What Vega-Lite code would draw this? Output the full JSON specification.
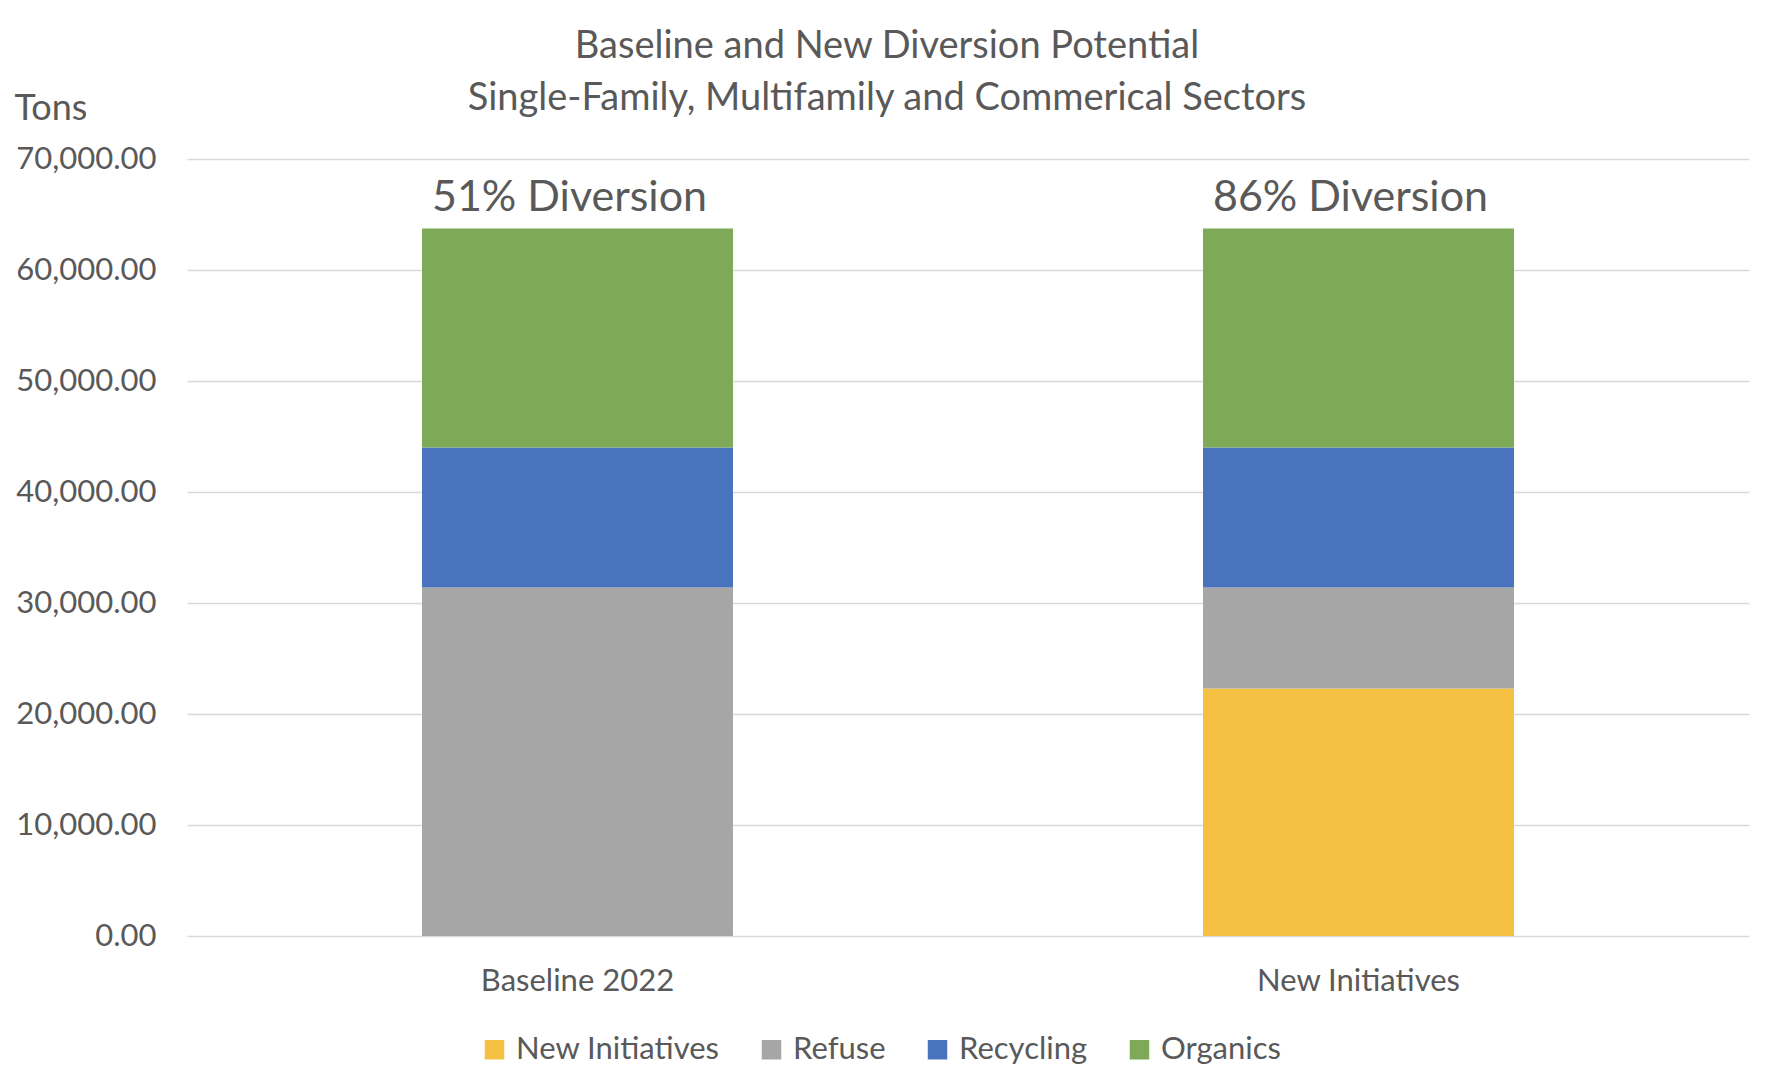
{
  "$schema": "https://vega.github.io/schema/vega-lite/v6.json",
  "width": 1562,
  "height": 777,
  "autosize": {"type": "none"},
  "padding": {"left": 187, "top": 159, "right": 32, "bottom": 152},
  "background": "white",
  "title": {
    "text": ["Baseline and New Diversion Potential", "Single-Family, Multifamily and Commerical Sectors"],
    "font": "Lato",
    "fontSize": 38,
    "fontWeight": "normal",
    "color": "#595959",
    "anchor": "middle",
    "frame": "group",
    "dx": -81,
    "offset": -28,
    "lineHeight": 52
  },
  "config": {
    "view": {"stroke": null},
    "font": "Lato"
  },
  "datasets": {
    "bars": [
      {"category": "Baseline 2022", "type": "Refuse", "tons": 31400, "ord": 1},
      {"category": "Baseline 2022", "type": "Recycling", "tons": 12600, "ord": 2},
      {"category": "Baseline 2022", "type": "Organics", "tons": 19750, "ord": 3},
      {"category": "New Initiatives", "type": "New Initiatives", "tons": 22300, "ord": 0},
      {"category": "New Initiatives", "type": "Refuse", "tons": 9100, "ord": 1},
      {"category": "New Initiatives", "type": "Recycling", "tons": 12600, "ord": 2},
      {"category": "New Initiatives", "type": "Organics", "tons": 19750, "ord": 3}
    ],
    "labels": [
      {"category": "Baseline 2022", "total": 63750, "label": "51% Diversion"},
      {"category": "New Initiatives", "total": 63750, "label": "86% Diversion"}
    ]
  },
  "layer": [
    {
      "data": {"name": "bars"},
      "mark": {"type": "bar", "size": 311},
      "encoding": {
        "x": {
          "field": "category",
          "type": "nominal",
          "sort": ["Baseline 2022", "New Initiatives"],
          "scale": {"paddingInner": 0, "paddingOuter": 0},
          "axis": {
            "title": null,
            "labelAngle": 0,
            "labelFont": "Lato",
            "labelFontSize": 31,
            "labelColor": "#595959",
            "labelPadding": 30,
            "labelLimit": 500,
            "ticks": false,
            "domain": false
          }
        },
        "y": {
          "field": "tons",
          "type": "quantitative",
          "stack": "zero",
          "scale": {"domain": [0, 70000], "nice": false},
          "axis": {
            "values": [0, 10000, 20000, 30000, 40000, 50000, 60000, 70000],
            "format": ",.2f",
            "title": "Tons",
            "titleAngle": 0,
            "titleAlign": "left",
            "titleBaseline": "middle",
            "titleX": -173,
            "titleY": -51,
            "titleFont": "Lato",
            "titleFontSize": 36,
            "titleFontWeight": "normal",
            "titleColor": "#595959",
            "labelFont": "Lato",
            "labelFontSize": 31,
            "labelColor": "#595959",
            "labelPadding": 31,
            "labelLimit": 500,
            "ticks": false,
            "domain": false,
            "grid": true,
            "gridColor": "#d9d9d9",
            "gridWidth": 1.5
          }
        },
        "color": {
          "field": "type",
          "type": "nominal",
          "scale": {
            "domain": ["New Initiatives", "Refuse", "Recycling", "Organics"],
            "range": ["#F4C142", "#A6A6A6", "#4A73BD", "#7EA956"]
          },
          "legend": {
            "title": null,
            "orient": "none",
            "direction": "horizontal",
            "legendX": 292,
            "legendY": 875,
            "symbolType": "square",
            "symbolSize": 380,
            "symbolStrokeWidth": 0,
            "labelFont": "Lato",
            "labelFontSize": 31,
            "labelColor": "#595959",
            "labelOffset": 6,
            "labelLimit": 500,
            "columnPadding": 36
          }
        },
        "order": {"field": "ord", "type": "quantitative"}
      }
    },
    {
      "data": {"name": "labels"},
      "mark": {
        "type": "text",
        "font": "Lato",
        "fontSize": 43,
        "color": "#595959",
        "baseline": "bottom",
        "dy": -8,
        "dx": -8
      },
      "encoding": {
        "x": {"field": "category", "type": "nominal", "sort": ["Baseline 2022", "New Initiatives"]},
        "y": {"field": "total", "type": "quantitative"},
        "text": {"field": "label"}
      }
    }
  ]
}
